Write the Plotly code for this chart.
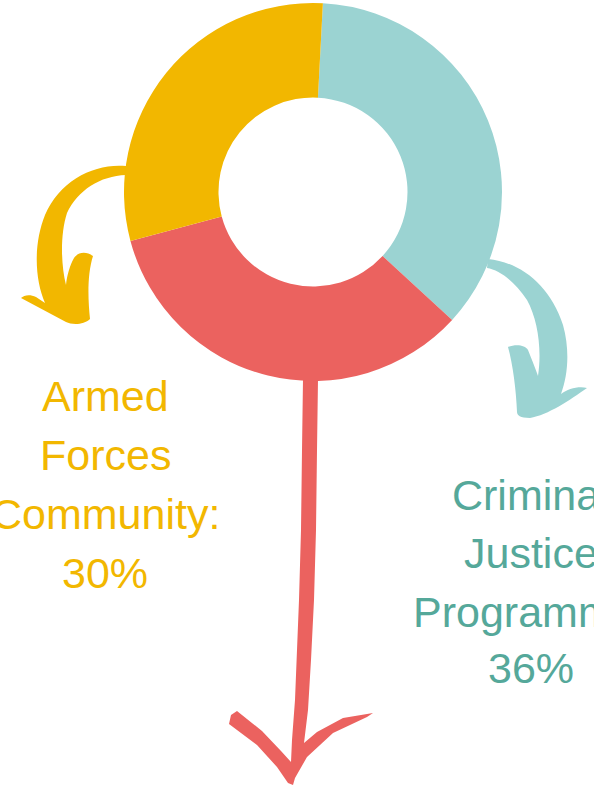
import plotly.graph_objects as go

# Data
labels = ["Criminal Justice Programme", "Other", "Armed Forces Community"]
values = [36, 34, 30]
colors = ["#9bd3d2", "#eb625f", "#f2b700"]

armed_lines = ["Armed", "Forces", "Community:", "30%"]
criminal_lines = ["Criminal", "Justice", "Programme:", "36%"]

W, H = 594, 790

fig = go.Figure()

fig.add_trace(go.Pie(
    labels=labels, values=values, hole=0.5, sort=False,
    direction="clockwise", rotation=3,
    marker=dict(colors=colors, line=dict(width=0)),
    textinfo="none", hoverinfo="label+percent", showlegend=False,
    domain=dict(x=[124 / W, 502 / W], y=[1 - 381 / H, 1 - 3 / H]),
))

# Decorative hand-drawn arrows (pixel space of hidden axes)
yellow_arrow = ("M 126,166 C 95,163 60,180 45,215 C 33,245 35,280 45,303 "
                "L 36,297 C 30,294 24,295 21,298 L 66,322 C 72,325 84,325 90,319 "
                "C 88,300 87,275 93,256 C 86,251 78,252 74,258 C 70,265 67,275 66,285 "
                "C 61,265 60,235 67,213 C 78,190 100,176 126,175 Z")
teal_arrow = ("M 488,259 C 520,262 550,285 563,325 C 570,350 568,375 561,394 "
              "C 568,389 578,386 587,388 C 570,400 548,415 530,418 "
              "C 520,418 517,415 517,412 C 516,390 513,365 508,347 "
              "C 516,344 525,345 528,350 C 532,360 536,370 538,376 "
              "C 542,350 538,320 527,300 C 515,282 500,270 487,268 Z")
red_arrow = ("M 303,379 L 318,379 L 317,450 L 316,530 L 314,600 L 311,660 L 308,710 "
             "L 304,743 L 317,732 L 343,718 L 373,713 L 367,717 L 333,733 L 307,757 "
             "L 295,778 L 293,785 L 288,783 L 277,767 L 257,745 L 229,724 L 231,715 "
             "L 237,711 L 262,731 L 281,751 L 291,762 L 292,740 L 295,700 L 297,650 "
             "L 299,600 L 301,530 L 302,450 Z")

for path, col in [(yellow_arrow, "#f2b700"), (teal_arrow, "#9bd3d2"), (red_arrow, "#eb625f")]:
    fig.add_shape(type="path", path=path, xref="x", yref="y",
                  fillcolor=col, line=dict(width=0), layer="below")

font_family = "Liberation Sans, Arial, sans-serif"
FS = 43
armed_centers = [396, 455, 514, 573]
criminal_centers = [495, 553, 612, 668]
for txt, yc in zip(armed_lines, armed_centers):
    fig.add_annotation(x=105, y=yc, xref="x", yref="y", showarrow=False, text=txt,
                       font=dict(family=font_family, size=FS, color="#f2b700"),
                       xanchor="center", yanchor="middle")
for txt, yc in zip(criminal_lines, criminal_centers):
    fig.add_annotation(x=531, y=yc, xref="x", yref="y", showarrow=False, text=txt,
                       font=dict(family=font_family, size=FS, color="#55a89a"),
                       xanchor="center", yanchor="middle")

fig.update_layout(
    width=W, height=H, margin=dict(l=0, r=0, t=0, b=0),
    paper_bgcolor="white", plot_bgcolor="rgba(0,0,0,0)",
    xaxis=dict(range=[0, W], visible=False, fixedrange=True, domain=[0, 1]),
    yaxis=dict(range=[H, 0], visible=False, fixedrange=True, domain=[0, 1]),
)

fig.write_html(
    "out.html",
    config={"displayModeBar": False},
    post_script="document.body.style.margin='0';document.body.style.overflow='hidden';",
)
